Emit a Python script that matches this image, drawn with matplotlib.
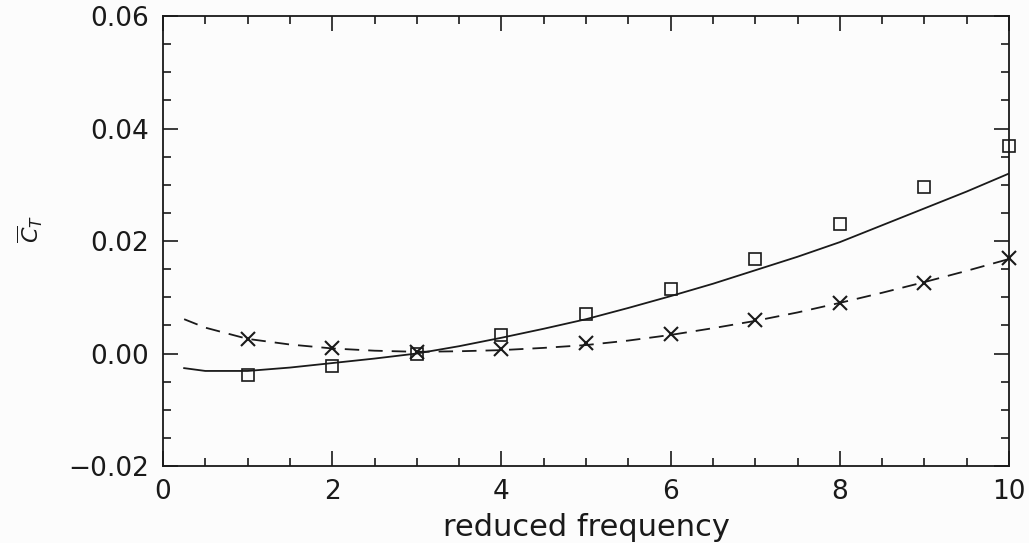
import matplotlib
matplotlib.use("Agg")
import matplotlib.pyplot as plt
from matplotlib.ticker import MultipleLocator

plt.rcParams["font.family"] = ["DejaVu Sans"]
plt.rcParams["mathtext.fontset"] = "dejavusans"

# 实测数据点（方框：完整模型，叉号：简化模型）
freq_pts = [1, 2, 3, 4, 5, 6, 7, 8, 9, 10]
ct_square = [-0.0038, -0.0022, 0.0000, 0.0033, 0.0070, 0.0115, 0.0168, 0.0230, 0.0296, 0.0369]
ct_cross = [0.0026, 0.0010, 0.0003, 0.0008, 0.0019, 0.0035, 0.0060, 0.0090, 0.0125, 0.0170]

# 理论曲线
freq_curve = [0.25, 0.5, 1, 1.5, 2, 2.5, 3, 3.5, 4, 4.5, 5, 5.5, 6, 6.5, 7, 7.5, 8, 8.5, 9, 9.5, 10]
ct_solid = [-0.0026, -0.0031, -0.0031, -0.0025, -0.0017, -0.0009, 0.0000, 0.0013, 0.0028,
            0.0044, 0.0061, 0.0081, 0.0102, 0.0124, 0.0148, 0.0172, 0.0198, 0.0228, 0.0258,
            0.0288, 0.0320]
ct_dashed = [0.0061, 0.0046, 0.0026, 0.0016, 0.0009, 0.0005, 0.0003, 0.0004, 0.0006, 0.0010,
             0.0015, 0.0023, 0.0033, 0.0045, 0.0058, 0.0073, 0.0090, 0.0108, 0.0127, 0.0147,
             0.0168]

ink = "#1a1a1a"

fig = plt.figure(figsize=(10.29, 5.43), dpi=100)
fig.patch.set_facecolor("#fcfcfc")
ax = fig.add_axes([0.1584, 0.1418, 0.8222, 0.8287])
ax.set_facecolor("#fcfcfc")

ax.plot(freq_curve, ct_solid, color=ink, lw=1.3)
ax.plot(freq_curve, ct_dashed, color=ink, lw=1.3, dashes=(8, 5))
ax.plot(freq_pts, ct_square, ls="none", marker="s", ms=8.5, mfc="none", mec=ink, mew=1.2,
        clip_on=False)
ax.plot(freq_pts, ct_cross, ls="none", marker="x", ms=9.5, mec=ink, mew=1.5, clip_on=False)

ax.set_xlim(0, 10)
ax.set_ylim(-0.02, 0.06)
ax.xaxis.set_major_locator(MultipleLocator(2))
ax.xaxis.set_minor_locator(MultipleLocator(0.5))
ax.yaxis.set_major_locator(MultipleLocator(0.02))
ax.yaxis.set_minor_locator(MultipleLocator(0.005))
ax.yaxis.set_major_formatter(plt.FuncFormatter(lambda v, p: f"{v:.2f}".replace("-", "\u2212")))

ax.tick_params(which="both", direction="in", top=True, right=True, color=ink, width=1.2)
ax.tick_params(which="major", length=11)
ax.tick_params(which="minor", length=6)
ax.tick_params(axis="y", labelsize=19, pad=10, labelcolor=ink)
ax.tick_params(axis="x", labelsize=19, pad=9, labelcolor=ink)
for s in ax.spines.values():
    s.set_color(ink)
    s.set_linewidth(1.3)

ax.set_xlabel("reduced frequency", fontsize=22, color=ink, labelpad=6)
ax.set_ylabel(r"$\overline{C}_T$", fontsize=16, color=ink)
ax.yaxis.set_label_coords(-0.139, 0.527)

fig.savefig("out.png", dpi=100, facecolor=fig.get_facecolor())
